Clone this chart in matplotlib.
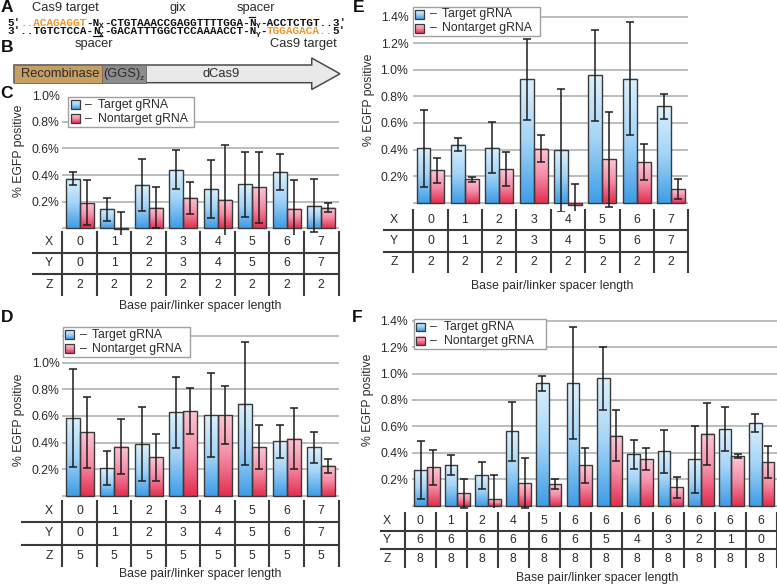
import numpy as np
import matplotlib.pyplot as plt
from matplotlib.colors import LinearSegmentedColormap
from matplotlib.patches import Rectangle, Polygon

plt.rcParams['font.family'] = ['Liberation Sans', 'DejaVu Sans']

W, H = 777, 588
TXT = '#2b2b2b'
GRID = '#b9bebe'
LINE = '#3a3a3a'
ORANGE = '#f2952a'
MONO = ['Liberation Mono', 'DejaVu Sans Mono']

blue_cm = LinearSegmentedColormap.from_list('b', ['#dcf0fc', '#a3d4f7', '#3f9de6'])
red_cm = LinearSegmentedColormap.from_list('r', ['#fcc7d5', '#f58ca7', '#e2304f'])
GRAD = np.linspace(1, 0, 64)[:, None]

# panel C: Z = 2
c_target = [0.374, 0.143, 0.327, 0.44, 0.294, 0.33, 0.425, 0.17]
c_target_sd = [0.05, 0.086, 0.195, 0.145, 0.216, 0.245, 0.135, 0.197]
c_nontarget = [0.193, -0.005, 0.156, 0.229, 0.214, 0.307, 0.148, 0.156]
c_nontarget_sd = [0.17, 0.125, 0.154, 0.122, 0.411, 0.266, 0.216, 0.035]
c_x = [0, 1, 2, 3, 4, 5, 6, 7]
c_y = [0, 1, 2, 3, 4, 5, 6, 7]
c_z = [2, 2, 2, 2, 2, 2, 2, 2]

# panel D: Z = 5
d_target = [0.585, 0.21, 0.39, 0.627, 0.607, 0.692, 0.41, 0.365]
d_target_sd = [0.371, 0.126, 0.277, 0.265, 0.312, 0.46, 0.126, 0.117]
d_nontarget = [0.477, 0.37, 0.29, 0.637, 0.607, 0.365, 0.43, 0.227]
d_nontarget_sd = [0.266, 0.207, 0.174, 0.174, 0.219, 0.164, 0.229, 0.054]
d_x = [0, 1, 2, 3, 4, 5, 6, 7]
d_y = [0, 1, 2, 3, 4, 5, 6, 7]
d_z = [5, 5, 5, 5, 5, 5, 5, 5]

# panel E: Z = 2
e_target = [0.409, 0.437, 0.414, 0.928, 0.394, 0.959, 0.934, 0.725]
e_target_sd = [0.288, 0.051, 0.192, 0.307, 0.462, 0.341, 0.425, 0.094]
e_nontarget = [0.246, 0.178, 0.251, 0.407, -0.02, 0.326, 0.306, 0.103]
e_nontarget_sd = [0.094, 0.019, 0.128, 0.104, 0.16, 0.356, 0.134, 0.076]
e_x = [0, 1, 2, 3, 4, 5, 6, 7]
e_y = [0, 1, 2, 3, 4, 5, 6, 7]
e_z = [2, 2, 2, 2, 2, 2, 2, 2]

# panel F: Z = 8
f_target = [0.27, 0.308, 0.23, 0.562, 0.926, 0.928, 0.963, 0.388, 0.411, 0.35, 0.578, 0.625]
f_target_sd = [0.223, 0.073, 0.102, 0.222, 0.058, 0.422, 0.238, 0.112, 0.162, 0.252, 0.167, 0.07]
f_nontarget = [0.29, 0.093, 0.048, 0.169, 0.164, 0.305, 0.53, 0.353, 0.141, 0.545, 0.376, 0.33]
f_nontarget_sd = [0.135, 0.111, 0.182, 0.189, 0.041, 0.135, 0.194, 0.086, 0.079, 0.235, 0.012, 0.122]
f_x = [0, 1, 2, 4, 5, 6, 6, 6, 6, 6, 6, 6]
f_y = [6, 6, 6, 6, 6, 6, 5, 4, 3, 2, 1, 0]
f_z = [8, 8, 8, 8, 8, 8, 8, 8, 8, 8, 8, 8]

fig = plt.figure(figsize=(W / 100, H / 100), dpi=100)


def px_axes(l, t, r, b, **kw):
    return fig.add_axes([l / W, 1 - b / H, (r - l) / W, (b - t) / H], **kw)


def bar_panel(l, r, top, base, clip, ymax, tick_max, grid_max, pad,
              target, target_sd, nontarget, nontarget_sd, w=0.405):
    span = base - top
    ymin = -(clip - base) / span * ymax
    ytop = ymax + 2 / span * ymax
    ax = px_axes(l, top - 2, r, clip)
    n = len(target)
    x = np.arange(n)
    for vals, sds, off, cm in ((target, target_sd, -w / 2, blue_cm),
                               (nontarget, nontarget_sd, w / 2, red_cm)):
        for xi, v in zip(x + off, vals):
            ax.imshow(GRAD, cmap=cm, extent=(xi - w / 2, xi + w / 2, min(0, v), max(0, v)),
                      aspect='auto', origin='lower', zorder=2, interpolation='bilinear')
        ax.bar(x + off, vals, w, facecolor='none', edgecolor=LINE, lw=1, zorder=3)
        ax.errorbar(x + off, vals, yerr=sds, fmt='none', ecolor='#1e1e1e',
                    elinewidth=1.1, capsize=3, capthick=1.1, zorder=4)
    for g in np.arange(0, grid_max + 1e-9, 0.2):
        ax.axhline(g, color=GRID, lw=1.4, zorder=1)
    ax.set_xlim(-0.5, n - 0.5)
    ax.set_ylim(ymin, ytop)
    ticks = np.arange(0.2, tick_max + 1e-9, 0.2)
    ax.set_yticks(ticks, [f'{t:.1f}%' for t in ticks])
    ax.set_xticks([])
    ax.tick_params(axis='y', length=0, pad=pad, labelsize=8.8, labelcolor=TXT)
    for s in ax.spines.values():
        s.set_visible(False)
    ax.patch.set_alpha(0)
    return ax


def table_panel(l, t, r, b, rows, label_px, line_px):
    tax = px_axes(l, t, r, b)
    n = len(rows[0][1])
    tax.set_xlim(-0.5, n - 0.5)
    tax.set_ylim(3, 0)
    tax.axis('off')
    pitch = (r - l) / n
    lab_x = -0.5 - (l - label_px) / pitch
    start_x = -0.5 - (l - line_px) / pitch
    tax.vlines(np.arange(n + 1) - 0.5, 0, 3, color=LINE, lw=1.5, clip_on=False)
    tax.hlines([1, 2], start_x, n - 0.5, color=LINE, lw=1.5, clip_on=False)
    for k, (name, vals) in enumerate(rows):
        tax.text(lab_x, k + 0.5, name, ha='center', va='center', fontsize=8.8,
                 color=TXT, clip_on=False)
        for i, v in enumerate(vals):
            tax.text(i, k + 0.5, str(v), ha='center', va='center', fontsize=8.8,
                     color=TXT, clip_on=False)


# C
bar_panel(62.3, 338.5, 95.3, 228.3, 235, 1.0, 1.0, 0.8, 1.8,
          c_target, c_target_sd, c_nontarget, c_nontarget_sd)
table_panel(62.3, 231, 338.5, 296, [('X', c_x), ('Y', c_y), ('Z', c_z)], 49, 32)
# D
bar_panel(62.3, 338.5, 336, 496, 498, 1.2, 1.0, 1.2, 1.8,
          d_target, d_target_sd, d_nontarget, d_nontarget_sd)
table_panel(62.3, 500, 338.5, 567, [('X', d_x), ('Y', d_y), ('Z', d_z)], 49, 21)
# E
bar_panel(413.3, 688.3, 16.7, 202.7, 210.5, 1.4, 1.4, 1.4, 3.5,
          e_target, e_target_sd, e_nontarget, e_nontarget_sd)
table_panel(413.3, 209, 688.3, 273, [('X', e_x), ('Y', e_y), ('Z', e_z)], 394, 383)
# F
bar_panel(411.8, 777, 320.7, 505.7, 507.5, 1.4, 1.4, 1.4, 2.5,
          f_target, f_target_sd, f_nontarget, f_nontarget_sd, w=0.415)
table_panel(404.5, 511.7, 776.5, 568.3, [('X', f_x), ('Y', f_y), ('Z', f_z)], 387, 380)

# overlay in pixel coordinates for labels, legends and panels A/B
ov = px_axes(0, 0, W, H, zorder=10)
ov.axis('off')


def legend_box(x0, y0, w):
    ov.add_patch(Rectangle((x0, y0), w, 29.5, facecolor='white', edgecolor='#a0a0a0', lw=1, zorder=2))
    for k, (label, cm) in enumerate((('Target gRNA', blue_cm), ('Nontarget gRNA', red_cm))):
        cy = y0 + 7.7 + 14 * k
        ov.imshow(GRAD, cmap=cm, extent=(x0 + 2.5, x0 + 11.2, cy + 4.35, cy - 4.35),
                  aspect='auto', origin='lower', zorder=3)
        ov.add_patch(Rectangle((x0 + 2.5, cy - 4.35), 8.7, 8.7, fill=False,
                               edgecolor=LINE, lw=0.9, zorder=4))
        ov.text(x0 + 17, cy, '–', ha='left', va='center', fontsize=8.8, color=TXT)
        ov.text(x0 + 30, cy, label, ha='left', va='center', fontsize=8.8, color=TXT)


legend_box(68.3, 97, 125.7)
legend_box(62.5, 327, 127)
legend_box(412.5, 6.7, 127)
legend_box(413.5, 319.3, 132.7)

for x, y in ((19, 151), (19, 420), (369, 100), (367.5, 400)):
    ov.text(x, y, '% EGFP positive', rotation=90, ha='center', va='center', fontsize=8.8, color=TXT)
for x, y in ((200, 306), (200, 574), (552, 286.5), (597, 577.5)):
    ov.text(x, y, 'Base pair/linker spacer length', ha='center', va='center', fontsize=8.8, color=TXT)

for letter, x, y in (('A', 0.5, 7), ('B', 0.5, 48), ('C', 0.5, 94), ('D', 0.5, 318),
                     ('E', 353, 8), ('F', 352, 317)):
    ov.text(x, y, letter, ha='left', va='center', fontsize=12.5, weight='bold', color='#111111')


# panel A: gix site sequence
def seq_line(x, y, runs):
    fs, sub_fs = 7.9, 5.6
    for s, col, kind in runs:
        size = sub_fs if kind == 'sub' else fs
        dy = 2.2 if kind == 'sub' else 0
        ov.text(x, y + dy, s, fontsize=size, color=col, family=MONO, weight='bold',
                ha='left', va='baseline')
        adv = len(s) * 0.6 * size * 100 / 72
        if kind == 'over':
            ov.plot([x + 0.5, x + adv - 0.5], [y - 8.2, y - 8.2], color='#111111', lw=0.9)
        if kind == 'under':
            ov.plot([x + 0.5, x + adv + 3], [y + 1.2, y + 1.2], color='#111111', lw=0.9)
        x += adv


K = '#111111'
seq_line(7.3, 25.5, [("5′", K, ''), ("..ACAGAGGT", ORANGE, ''), ("-N", K, ''), ("X", K, 'sub'),
                     ("-CTGTAAACCGAGGTTTTGGA-", K, ''), ("N", K, 'over'), ("Y", K, 'sub'),
                     ("-ACCTCTGT..3′", K, '')])
seq_line(7.3, 34.5, [("3′..TGTCTCCA-", K, ''), ("N", K, 'under'), ("X", K, 'sub'),
                     ("-GACATTTGGCTCCAAAACCT-N", K, ''), ("Y", K, 'sub'), ("-", K, ''),
                     ("TGGAGACA..", ORANGE, ''), ("5′", K, '')])
for s, x, y in (('Cas9 target', 65, 7.5), ('gix', 178, 7.5), ('spacer', 256, 7.5),
                ('spacer', 93.5, 44.5), ('Cas9 target', 303, 44.5)):
    ov.text(x, y, s, ha='center', va='center', fontsize=9.3, color=TXT)

# panel B: fusion protein arrow
ov.add_patch(Polygon([(14, 65), (311.7, 65), (311.7, 58), (340, 73.8), (311.7, 89.5),
                      (311.7, 82.7), (14, 82.7)], closed=True, facecolor='#e9e9e9',
                     edgecolor='#4a4a4a', lw=1.1, zorder=2))
ov.add_patch(Rectangle((101.7, 65), 44.3, 17.7, facecolor='#8c8c8c', edgecolor='#6a6a6a', lw=0.6, zorder=3))
ov.add_patch(Rectangle((14, 65), 87.7, 17.7, facecolor='#c89f62', edgecolor='#7a6a50', lw=0.6, zorder=3))
ov.text(60, 74, 'Recombinase', ha='center', va='center', fontsize=9.3, color=TXT, zorder=4)
ov.text(103.5, 74, '(GGS)', ha='left', va='center', fontsize=9.3, color=TXT, zorder=4)
ov.text(139.5, 78.5, 'z', ha='left', va='center', fontsize=6, color=TXT, zorder=4)
ov.text(221, 74, 'dCas9', ha='center', va='center', fontsize=9.3, color=TXT, zorder=4)

ov.set_xlim(0, W)
ov.set_ylim(H, 0)

fig.savefig('out.png', dpi=100)
